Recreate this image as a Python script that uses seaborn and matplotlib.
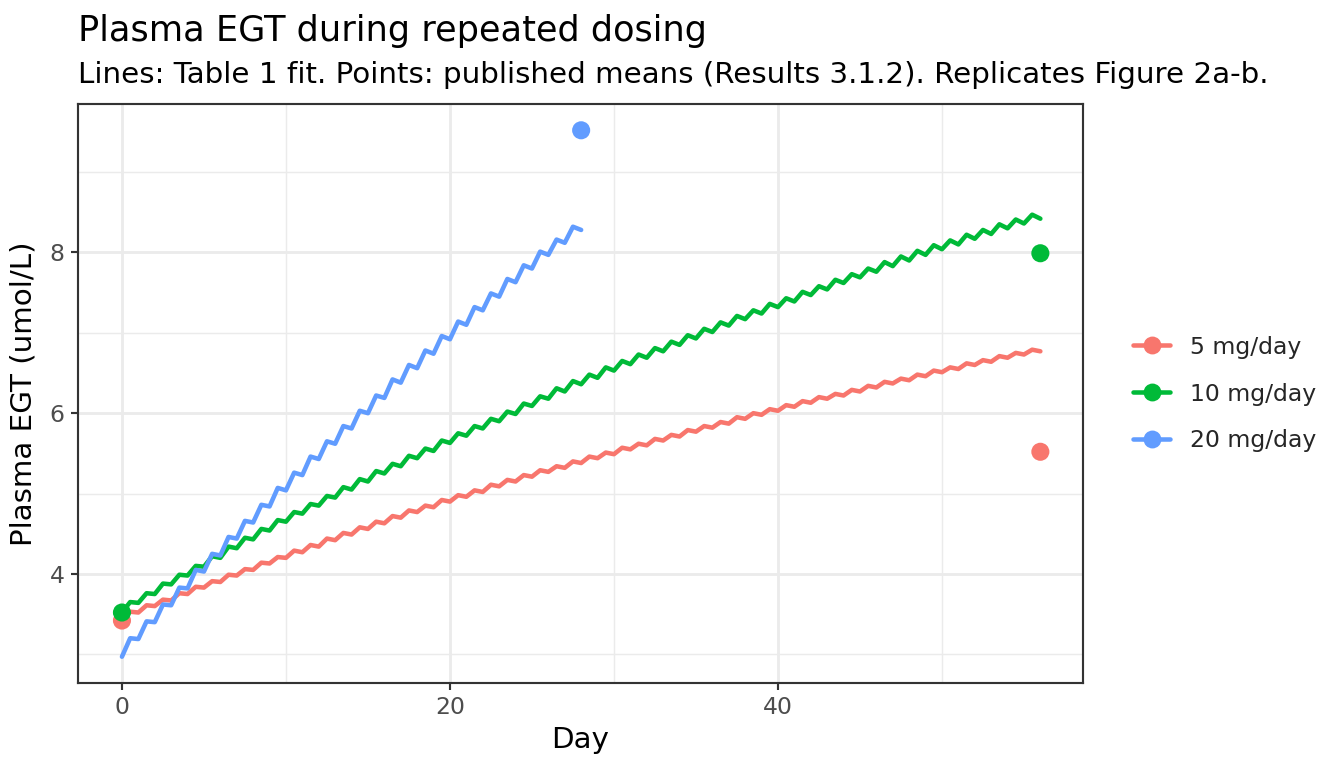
import numpy as np
import pandas as pd
import matplotlib
matplotlib.use("Agg")
import matplotlib.pyplot as plt
from matplotlib.lines import Line2D
from matplotlib.ticker import MultipleLocator
import seaborn as sns

doses = ["5 mg/day", "10 mg/day", "20 mg/day"]
colors = ["#F8766D", "#00BA38", "#619CFF"]

# Table 1 fit
# trough = value at each dosing day (0, 1, 2, ...), peak = half a day later
trough_5 = [3.44, 3.52, 3.60, 3.67, 3.75, 3.83, 3.90, 3.98, 4.05, 4.13,
            4.20, 4.27, 4.34, 4.42, 4.49, 4.56, 4.63, 4.70, 4.77, 4.83,
            4.90, 4.96, 5.02, 5.09, 5.15, 5.21, 5.27, 5.32, 5.38, 5.44,
            5.49, 5.55, 5.60, 5.66, 5.71, 5.77, 5.82, 5.87, 5.93, 5.98,
            6.03, 6.08, 6.13, 6.18, 6.22, 6.27, 6.32, 6.37, 6.41, 6.46,
            6.51, 6.55, 6.60, 6.64, 6.69, 6.73, 6.77]
peak_5 = [3.53, 3.61, 3.68, 3.76, 3.84, 3.91, 3.99, 4.06, 4.14, 4.21,
          4.29, 4.36, 4.44, 4.51, 4.58, 4.65, 4.72, 4.79, 4.85, 4.92,
          4.98, 5.04, 5.11, 5.17, 5.23, 5.29, 5.34, 5.40, 5.46, 5.51,
          5.57, 5.62, 5.68, 5.73, 5.79, 5.84, 5.89, 5.95, 6.00, 6.05,
          6.10, 6.15, 6.20, 6.24, 6.29, 6.34, 6.39, 6.43, 6.48, 6.53,
          6.57, 6.62, 6.66, 6.71, 6.75, 6.79]

trough_10 = [3.52, 3.64, 3.75, 3.87, 3.98, 4.09, 4.20, 4.32, 4.43, 4.54,
             4.65, 4.75, 4.85, 4.95, 5.05, 5.15, 5.25, 5.34, 5.44, 5.53,
             5.63, 5.72, 5.81, 5.90, 5.99, 6.09, 6.18, 6.27, 6.36, 6.44,
             6.53, 6.61, 6.69, 6.77, 6.85, 6.93, 7.01, 7.09, 7.17, 7.24,
             7.32, 7.39, 7.47, 7.54, 7.62, 7.69, 7.76, 7.83, 7.90, 7.97,
             8.04, 8.10, 8.17, 8.23, 8.30, 8.36, 8.42]
peak_10 = [3.65, 3.76, 3.88, 3.99, 4.10, 4.22, 4.34, 4.45, 4.56, 4.67,
           4.77, 4.87, 4.97, 5.08, 5.18, 5.28, 5.37, 5.47, 5.56, 5.66,
           5.75, 5.84, 5.93, 6.02, 6.12, 6.21, 6.31, 6.40, 6.48, 6.57,
           6.65, 6.73, 6.81, 6.89, 6.97, 7.05, 7.13, 7.21, 7.28, 7.36,
           7.43, 7.51, 7.58, 7.66, 7.73, 7.80, 7.88, 7.95, 8.02, 8.09,
           8.15, 8.22, 8.28, 8.35, 8.41, 8.47]

trough_20 = [2.97, 3.19, 3.40, 3.61, 3.82, 4.03, 4.23, 4.44, 4.64, 4.84,
             5.04, 5.23, 5.43, 5.62, 5.81, 6.00, 6.19, 6.38, 6.56, 6.74,
             6.92, 7.10, 7.28, 7.45, 7.63, 7.80, 7.97, 8.12, 8.28]
peak_20 = [3.20, 3.41, 3.62, 3.83, 4.05, 4.25, 4.46, 4.66, 4.86, 5.07,
           5.26, 5.46, 5.65, 5.84, 6.03, 6.22, 6.42, 6.60, 6.78, 6.96,
           7.14, 7.32, 7.49, 7.67, 7.84, 8.01, 8.16, 8.32]

# published means (Results 3.1.2)
obs_dose = ["5 mg/day", "5 mg/day", "10 mg/day", "10 mg/day", "20 mg/day"]
obs_day = [0, 56, 0, 56, 28]
obs_egt = [3.42, 5.52, 3.52, 7.99, 9.52]

rows = []
for dose, tr, pk in zip(doses, [trough_5, trough_10, trough_20],
                        [peak_5, peak_10, peak_20]):
    for d, v in enumerate(tr):
        rows.append((dose, float(d), v))
    for d, v in enumerate(pk):
        rows.append((dose, d + 0.5, v))
fit = pd.DataFrame(rows, columns=["dose", "day", "egt"])
fit = fit.sort_values(["dose", "day"]).reset_index(drop=True)
obs = pd.DataFrame({"dose": obs_dose, "day": obs_day, "egt": obs_egt})

sns.set_theme(style="white")
plt.rcParams["font.family"] = ["DejaVu Sans"]

W, H = 1344, 768
fig = plt.figure(figsize=(7, 4), dpi=192)
ax = fig.add_axes([78 / W, 1 - 683 / H, (1083 - 78) / W, (683 - 104) / H])

sns.lineplot(data=fit, x="day", y="egt", hue="dose", hue_order=doses,
             palette=colors, lw=1.7, estimator=None, sort=True,
             legend=False, ax=ax, zorder=2)
sns.scatterplot(data=obs, x="day", y="egt", hue="dose", hue_order=doses,
                palette=colors, s=46, edgecolor="none", linewidth=0,
                legend=False, ax=ax, zorder=3)

ax.set_xlim(-2.68, 58.6)
ax.set_ylim(2.643, 9.847)
ax.xaxis.set_major_locator(MultipleLocator(20))
ax.xaxis.set_minor_locator(MultipleLocator(10))
ax.yaxis.set_major_locator(MultipleLocator(2))
ax.yaxis.set_minor_locator(MultipleLocator(1))
ax.grid(which="major", color="#EBEBEB", lw=1.07, zorder=0)
ax.grid(which="minor", color="#EBEBEB", lw=0.53, zorder=0)
ax.set_axisbelow(True)
for s in ax.spines.values():
    s.set_color("#333333")
    s.set_linewidth(0.8)
ax.tick_params(which="major", length=2.75, width=0.8, color="#333333",
               labelcolor="#4D4D4D", labelsize=8.8, pad=2.2,
               bottom=True, left=True)
ax.tick_params(which="minor", length=0, bottom=False, left=False)

ax.set_xlabel("Day", fontsize=11, color="black", labelpad=2.5)
ax.set_ylabel("Plasma EGT (umol/L)", fontsize=11, color="black", labelpad=4.5)

fig.text(78 / W, 1 - 41 / H, "Plasma EGT during repeated dosing",
         fontsize=13.2, color="black", va="baseline", ha="left")
fig.text(78 / W, 1 - 83 / H,
         "Lines: Table 1 fit. Points: published means (Results 3.1.2). "
         "Replicates Figure 2a-b.",
         fontsize=11, color="black", va="baseline", ha="left")

handles = [Line2D([], [], color=c, lw=1.7, marker="o", markersize=6.7,
                  markeredgewidth=0) for c in colors]
fig.legend(handles, doses, loc="center left",
           bbox_to_anchor=(1133 / W, 1 - 394 / H),
           bbox_transform=fig.transFigure, frameon=False, fontsize=8.8,
           handlelength=1.58, handletextpad=0.85, labelspacing=1.02,
           borderpad=0, borderaxespad=0)

fig.savefig("out.png", dpi=192)
